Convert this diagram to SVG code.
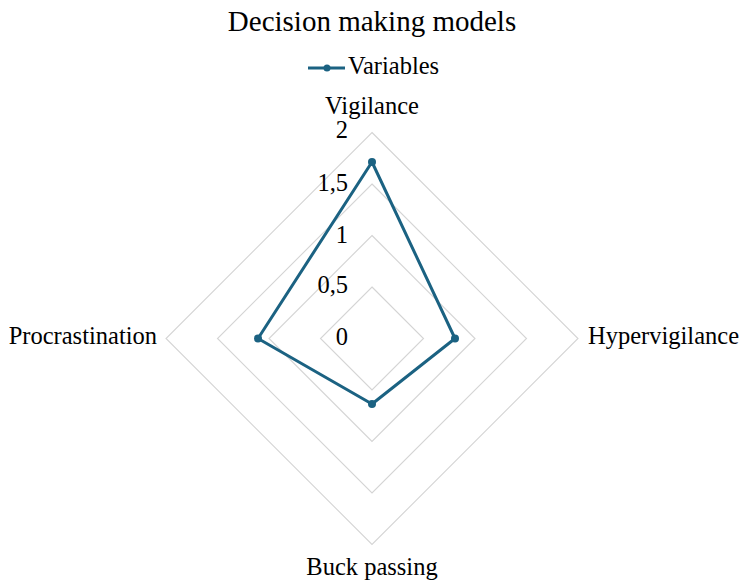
<svg xmlns="http://www.w3.org/2000/svg" width="740" height="583" viewBox="0 0 740 583">
<style>
text{font-family:"Liberation Serif","Times New Roman",serif;fill:#000}
.t{font-size:29px}
.l{font-size:24.5px}
.k{font-size:24.5px;text-anchor:end}
.g{fill:none;stroke:#D4D4D4;stroke-width:1.1}
.s{fill:none;stroke:#1B6282;stroke-width:3;stroke-linejoin:round}
.m{fill:#1B6282}
</style>
<rect width="740" height="583" fill="#fff"/>
<text class="t" x="372" y="31" text-anchor="middle">Decision making models</text>
<g id="legend">
<line x1="308" y1="68" x2="345" y2="68" stroke="#1B6282" stroke-width="3"/>
<circle class="m" cx="327" cy="68" r="3.5"/>
<text class="l" x="348" y="74">Variables</text>
</g>
<g id="grid">
<polygon class="g" points="372,287 423.5,338.5 372,390 320.5,338.5"/>
<polygon class="g" points="372,235.5 475,338.5 372,441.5 269,338.5"/>
<polygon class="g" points="372,184 526.5,338.5 372,493 217.5,338.5"/>
<polygon class="g" points="372,132.5 578,338.5 372,544.5 166,338.5"/>
</g>
<g id="ticks">
<text class="k" x="348" y="345">0</text>
<text class="k" x="348" y="293">0,5</text>
<text class="k" x="348" y="243">1</text>
<text class="k" x="348" y="191">1,5</text>
<text class="k" x="348" y="138">2</text>
</g>
<g id="axis-labels">
<text class="l" x="372" y="114" text-anchor="middle">Vigilance</text>
<text class="l" x="588" y="344">Hypervigilance</text>
<text class="l" x="372" y="575" text-anchor="middle">Buck passing</text>
<text class="l" x="157" y="344" text-anchor="end">Procrastination</text>
</g>
<g id="connectors">
<polygon class="s" points="372,162 455,338.5 372,404 258,338.5"/>
</g>
<g id="points">
<circle class="m" cx="372" cy="162" r="4"/>
<circle class="m" cx="455" cy="338.5" r="4"/>
<circle class="m" cx="372" cy="404" r="4"/>
<circle class="m" cx="258" cy="338.5" r="4"/>
</g>
</svg>
